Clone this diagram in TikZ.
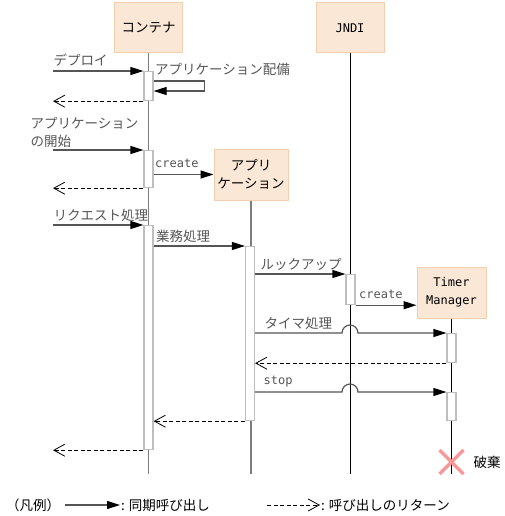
\documentclass[tikz,border=0pt]{standalone}
\usepackage{fontspec}
\setmainfont{Noto Sans CJK JP}
\setmonofont{DejaVu Sans Mono}
\usetikzlibrary{
  arrows.meta,
  calc,
  positioning
}
\definecolor{objfill}{RGB}{250,231,214}
\definecolor{objline}{RGB}{243,206,174}
\definecolor{actline}{RGB}{190,190,190}
\definecolor{lifegray}{RGB}{125,125,125}
\definecolor{callgray}{RGB}{85,85,85}
\definecolor{killred}{RGB}{246,152,152}
\newcommand{\jpsize}{\fontsize{13.5}{18}\selectfont}
\newcommand{\ttsize}{\fontsize{12}{18}\selectfont\ttfamily}

\begin{document}
\begin{tikzpicture}[
  x=1pt, y=-1pt,
  obj/.style={draw=objline, fill=objfill, line width=1pt, align=center, font=\jpsize},
  act/.style={draw=actline, fill=white, line width=1.2pt, minimum width=9pt,
              inner sep=0pt, anchor=north},
  life/.style={lifegray, line width=1.5pt},
  lifeb/.style={black, line width=0.8pt},
  lbl/.style={font=\jpsize, inner sep=0pt, anchor=base west},
  tlbl/.style={lbl, font=\ttsize},
  call/.style={-{Triangle[length=13pt, width=8pt, color=black]}, callgray, line width=1.2pt},
  ret/.style={-{Straight Barb[length=11pt, width=12pt]}, black, line width=0.8pt,
              dash pattern=on 4pt off 2.5pt}
]
\useasboundingbox (0,0) rectangle (505,516);

\node[obj, minimum width=68pt, minimum height=50pt] (cont) at (148.5,28) {コンテナ};
\node[obj, minimum width=74pt, minimum height=51pt] (app) at (251,174.5) {アプリ\\ケーション};
\node[obj, font=\ttsize, minimum width=68pt, minimum height=50pt] (jndi) at (350,28) {JNDI};
\node[obj, font=\ttsize, minimum width=69pt, minimum height=51pt] (tm) at (451.5,292.5) {Timer\\Manager};

\coordinate (bottom) at (0,474);
\coordinate (left) at (53,0);

% lifelines
\draw[life] (cont) -- (cont |- bottom);
\draw[life] (app) -- (app |- bottom);
\draw[lifeb] (jndi) -- (jndi |- bottom);
\draw[lifeb] (tm) -- (tm |- bottom);

% activations
\node[act, minimum height=29pt] at (148.5,71) (ca1) {};
\node[act, minimum height=37pt] at (148.5,150) (ca2) {};
\node[act, minimum height=224pt] at (148.5,225) (ca3) {};
\node[act, minimum height=174pt] at (250,246) (aa1) {};
\node[act, minimum height=30pt] at (350.5,274) (ja1) {};
\node[act, minimum height=29pt] at (451.5,333) (ta1) {};
\node[act, minimum height=28pt] at (451.5,392) (ta2) {};

\draw[call] (left |- ca1.north) node[lbl, yshift=5pt] {デプロイ} -- (ca1.north west);
\draw[call] ($(ca1.north east)+(0,10)$) node[lbl, xshift=1pt, yshift=6pt] {アプリケーション配備}
  -- ++(51,0) -- ++(0,10) -- ($(ca1.north east)+(0,20)$);
\draw[ret] (ca1.south west) -- (left |- ca1.south);

\draw[call] (left |- ca2.north) node[lbl, align=left, anchor=south west, xshift=-23pt, yshift=2pt] {アプリケーション\\の開始} -- (ca2.north west);
\draw[call] (ca2.east |- app.west) node[tlbl, xshift=1pt, yshift=7pt] {create} -- (app.west);
\draw[ret] (ca2.south west) -- (left |- ca2.south);

\draw[call] (left |- ca3.north) node[lbl, yshift=5pt] {リクエスト処理} -- (ca3.north west);
\draw[call] (ca3.east |- aa1.north) node[lbl, xshift=2pt, yshift=5pt] {業務処理} -- (aa1.north west);
\draw[call] (aa1.east |- ja1.north) node[lbl, xshift=5pt, yshift=5pt] {ルックアップ} -- (ja1.north west);
\draw[call] (ja1.south east) node[tlbl, xshift=3pt, yshift=7pt] {create} -- (ja1.south east -| tm.west);

\draw[call] (aa1.east |- ta1.north) node[lbl, xshift=9pt, yshift=5pt] {タイマ処理}
  -- ($(jndi |- ta1.north)+(-8,0)$) arc[start angle=180, end angle=0, radius=8pt] -- (ta1.north west);
\draw[ret] (ta1.south west) -- (aa1.east |- ta1.south);
\draw[call] (aa1.east |- ta2.north) node[tlbl, xshift=8pt, yshift=8pt] {stop}
  -- ($(jndi |- ta2.north)+(-8,0)$) arc[start angle=180, end angle=0, radius=8pt] -- (ta2.north west);
\draw[ret] (aa1.south west) -- (ca3.east |- aa1.south);
\draw[ret] (ca3.south west) -- (left |- ca3.south);

% destroy
\coordinate (kill) at (451.5,462);
\draw[killred, line width=3.5pt] ($(kill)+(-12,-12)$) -- ($(kill)+(12,12)$)
  ($(kill)+(-12,12)$) -- ($(kill)+(12,-12)$);
\node[lbl, anchor=west, right=22pt of kill] (killlbl) {破棄};

% Legend
\node[lbl, anchor=west] at (6,505) (legend) {（凡例）};
\coordinate (sync1) at (65,505);
\coordinate (sync2) at (120,505);
\draw[call] (sync1) -- (sync2);
\node[lbl, anchor=west, right=1pt of sync2] (synclbl) {: 同期呼び出し};
\coordinate (ret1) at (267,505);
\coordinate (ret2) at (320,505);
\draw[ret] (ret1) -- (ret2);
\node[lbl, anchor=west, right=1pt of ret2] (retlbl) {: 呼び出しのリターン};

\end{tikzpicture}
\end{document}
